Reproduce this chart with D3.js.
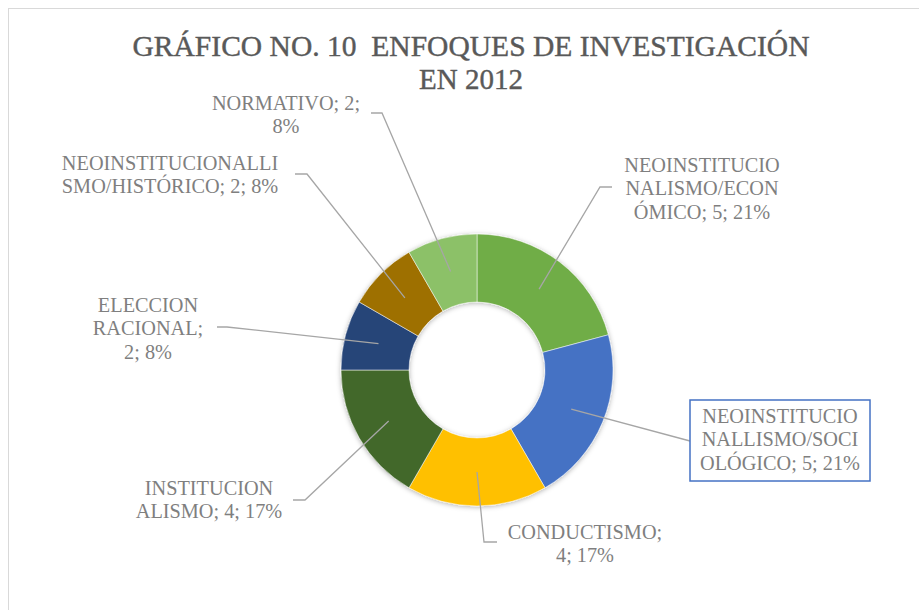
<!DOCTYPE html>
<html>
<head>
<meta charset="utf-8">
<script src="https://cdn.jsdelivr.net/npm/d3@7"></script>
<style>
  html, body { margin: 0; padding: 0; background: #fff; }
  svg { display: block; }
  text { white-space: pre; }
</style>
</head>
<body>
<svg id="chart" width="919" height="610"></svg>
<script>
// ---- data ----
const categories = [
  "NEOINSTITUCIONALISMO/ECONÓMICO",
  "NEOINSTITUCIONALLISMO/SOCIOLÓGICO",
  "CONDUCTISMO",
  "INSTITUCIONALISMO",
  "ELECCION RACIONAL",
  "NEOINSTITUCIONALLISMO/HISTÓRICO",
  "NORMATIVO"
];
const values = [5, 5, 4, 4, 2, 2, 2];
const colors = ["#70AD47", "#4472C4", "#FFC000", "#43682B", "#264478", "#9E7000", "#8CC168"];
const titleLines = ["GRÁFICO NO. 10  ENFOQUES DE INVESTIGACIÓN", "EN 2012"];

// ---- layout (label placement, wrapping) ----
const labelLayout = [
  { cx: 702, by: 172, breaks: [13, 25], lead: [[612, 187], [600, 187]] },
  { cx: 780, by: 423, breaks: [13, 26], lead: [[690, 441]], box: [690, 400, 180, 81] },
  { cx: 585, by: 539, breaks: [12], lead: [[497, 542], [484, 542]] },
  { cx: 209, by: 495, breaks: [11], lead: [[293, 500], [305, 500]] },
  { cx: 148, by: 312, breaks: [8, 18], lead: [[217, 327], [227, 327]] },
  { cx: 170, by: 170, breaks: [18], lead: [[295, 174], [307, 174]] },
  { cx: 286, by: 110, breaks: [13], lead: [[371, 113], [382, 113]] }
];

const W = 919, H = 610;
const cx = 477, cy = 370, rOuter = 136, rInner = 68;
const lineH = 23.3;
const labelFont = "'Liberation Serif', 'DejaVu Serif', serif";

const svg = d3.select("#chart");

// border
svg.append("rect")
  .attr("x", 8.5).attr("y", 8.5)
  .attr("width", 1000).attr("height", 1000)
  .attr("fill", "#fff")
  .attr("stroke", "#d9d9d9").attr("stroke-width", 1);

// shadow filter
const defs = svg.append("defs");
const f = defs.append("filter").attr("id", "sh")
  .attr("x", "-20%").attr("y", "-20%").attr("width", "140%").attr("height", "140%");
f.append("feDropShadow").attr("dx", 0).attr("dy", 1).attr("stdDeviation", 2.5)
  .attr("flood-color", "#000").attr("flood-opacity", 0.3);

// title
const title = svg.append("g");
titleLines.forEach((t, i) => {
  const tx = title.append("text")
    .attr("x", 471).attr("y", i === 0 ? 56 : 89)
    .attr("text-anchor", "middle")
    .attr("font-family", labelFont)
    .attr("font-size", 29)
    .attr("fill", "#595959")
    .attr("stroke", "#595959").attr("stroke-width", 0.4)
    .text(t);
  if (i === 0) tx.attr("textLength", 677).attr("lengthAdjust", "spacingAndGlyphs");
});

// pie
const total = d3.sum(values);
const pie = d3.pie().sort(null).value(d => d);
const arcs = pie(values);
const arc = d3.arc().innerRadius(rInner).outerRadius(rOuter);

const g = svg.append("g").attr("transform", `translate(${cx},${cy})`);
g.append("g").attr("filter", "url(#sh)")
  .selectAll("path").data(arcs).join("path")
  .attr("d", arc)
  .attr("fill", (d, i) => colors[i])
  .attr("stroke", "#fff").attr("stroke-width", 0.5);

// leader lines
const fmtPct = v => Math.round(v / total * 100) + "%";
arcs.forEach((a, i) => {
  const L = labelLayout[i];
  const c = arc.centroid(a);
  const pts = L.lead.concat([[cx + c[0], cy + c[1]]]);
  svg.append("path")
    .attr("d", d3.line()(pts))
    .attr("fill", "none")
    .attr("stroke", "#a6a6a6")
    .attr("stroke-width", 1.3);
});

// labels
arcs.forEach((a, i) => {
  const L = labelLayout[i];
  const full = `${categories[i]}; ${values[i]}; ${fmtPct(values[i])}`;
  const cuts = [0].concat(L.breaks, [full.length]);
  const lines = [];
  for (let k = 0; k < cuts.length - 1; k++) lines.push(full.slice(cuts[k], cuts[k + 1]).trim());
  if (L.box) {
    svg.append("rect")
      .attr("x", L.box[0]).attr("y", L.box[1])
      .attr("width", L.box[2]).attr("height", L.box[3])
      .attr("fill", "#fff")
      .attr("stroke", "#4472C4").attr("stroke-width", 1.5);
  }
  const t = svg.append("text")
    .attr("text-anchor", "middle")
    .attr("font-family", labelFont)
    .attr("font-size", 20.3)
    .attr("fill", "#7f7f7f");
  lines.forEach((ln, k) => {
    t.append("tspan").attr("x", L.cx).attr("y", L.by + k * lineH).text(ln);
  });
});
</script>
</body>
</html>
